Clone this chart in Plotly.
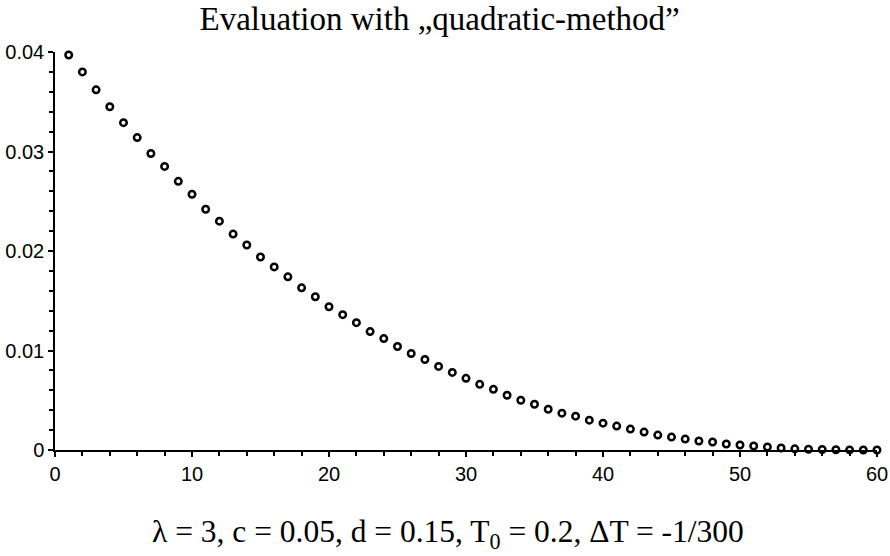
import plotly.graph_objects as go

x_vals = list(range(1, 61))
y_vals = [
    0.0397, 0.0380, 0.0362, 0.0345, 0.0329, 0.0314, 0.0298, 0.0285, 0.0270, 0.0257,
    0.0242, 0.0230, 0.0217, 0.0206, 0.0194, 0.0184, 0.0174, 0.0163, 0.0154, 0.0144,
    0.0136, 0.0128, 0.0119, 0.0112, 0.0104, 0.0097, 0.0091, 0.0084, 0.0078, 0.0072,
    0.0066, 0.0061, 0.0055, 0.0050, 0.0046, 0.0041, 0.0037, 0.0034, 0.0030, 0.0027,
    0.0024, 0.0021, 0.0018, 0.0015, 0.0013, 0.0011, 0.0009, 0.0008, 0.0006, 0.0005,
    0.0004, 0.0003, 0.0002, 0.00012, 0.00008, 0.00005, 0.00003, 0.00001, 0.000005, 0.0,
]
x_tick_step = 10
y_tick_step = 0.01

title_text = "Evaluation with \u201equadratic-method\u201d"
caption_text = "\u03bb = 3, c = 0.05, d = 0.15, T<sub>0</sub> = 0.2, \u0394T = -1/300"

tick_font = dict(family="Liberation Sans, Arial, sans-serif", size=20, color="black")
serif = "Liberation Serif, Times New Roman, serif"

fig = go.Figure()
fig.add_trace(go.Scatter(
    x=x_vals, y=y_vals, mode="markers",
    marker=dict(symbol="circle-open", size=6.5, color="black", line=dict(width=2.5, color="black")),
    cliponaxis=False, showlegend=False,
))

fig.update_layout(
    width=890, height=556,
    margin=dict(l=55, r=13, t=52, b=106, autoexpand=False),
    paper_bgcolor="white", plot_bgcolor="white",
    title=dict(text=title_text, x=0.494, xanchor="center", y=0.967, yanchor="middle",
               font=dict(family=serif, size=33, color="black")),
    annotations=[dict(text=caption_text, xref="paper", yref="paper", x=0.478, y=-0.212,
                      xanchor="center", yanchor="middle", showarrow=False,
                      font=dict(family=serif, size=31.5, color="black"))],
)
fig.update_xaxes(
    range=[0, 60], tickmode="linear", tick0=0, dtick=x_tick_step, automargin=False,
    showline=True, linecolor="black", linewidth=1.5, showgrid=False, zeroline=False,
    ticks="outside", ticklen=5, tickwidth=1.5, tickcolor="black", tickfont=tick_font,
    minor=dict(tick0=0, dtick=2, ticks="outside", ticklen=4, tickwidth=1.5, tickcolor="black", showgrid=False),
)
fig.update_yaxes(
    range=[0, 0.04], tickmode="linear", tick0=0, dtick=y_tick_step, automargin=False,
    showline=True, linecolor="black", linewidth=1.5, showgrid=False, zeroline=False,
    ticks="outside", ticklen=5, tickwidth=1.5, tickcolor="black", tickfont=tick_font,
    minor=dict(tick0=0, dtick=0.002, ticks="outside", ticklen=4, tickwidth=1.5, tickcolor="black", showgrid=False),
)

fig.write_html("out.html")
